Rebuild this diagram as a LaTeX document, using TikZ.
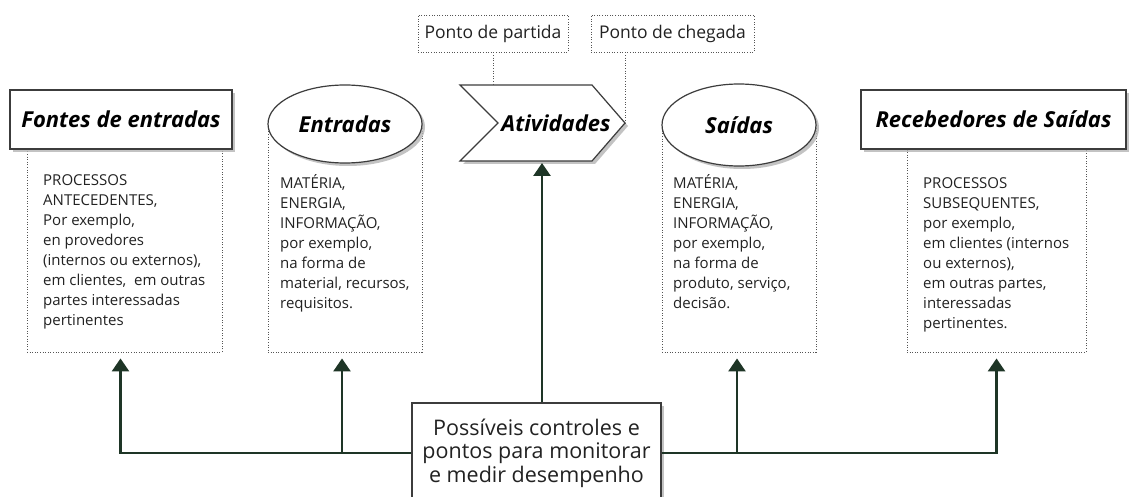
\documentclass[tikz,border=0pt]{standalone}
\usepackage{fontspec}
\setmainfont{Open Sans}
\usetikzlibrary{arrows.meta,shapes.geometric,shadows}
\definecolor{arrgreen}{HTML}{1E3526}
\definecolor{edgec}{HTML}{3C3C3C}
\definecolor{dotc}{HTML}{555555}
\definecolor{shadec}{HTML}{B5B5B5}
\definecolor{txtc}{HTML}{222222}
\begin{document}
\begin{tikzpicture}[x=1pt,y=-1pt,
  dotline/.style={draw=dotc, line width=0.9pt, dash pattern=on 1pt off 1.6pt},
  dotbox/.style={rectangle, dotline, inner sep=0pt},
  bodytext/.style={anchor=north west, align=left, inner sep=0pt, text=txtc,
    font=\fontsize{15}{20}\selectfont},
  titlefont/.style={font=\fontsize{22}{24}\selectfont\bfseries\itshape, text=black},
  shapebox/.style={draw=edgec, line width=1.2pt, fill=white, inner sep=0pt,
    drop shadow={shadow xshift=3pt, shadow yshift=-3pt, fill=shadec, opacity=0.8}},
  pontobox/.style={dotbox, font=\fontsize{17.5}{19}\selectfont, text=txtc},
  arr/.style={draw=arrgreen, line width=2.6pt, -{Triangle[width=17pt,length=13pt]}, shorten >=6pt},
]
\useasboundingbox (0,0) rectangle (1129,497);
\fill[white] (0,0) rectangle (1129,497);

% dotted bodies
\node[dotbox, minimum width=195pt, minimum height=203pt] (bfontes) at (124.5,250.5) {};
\node[dotbox, minimum width=154pt, minimum height=228pt] (bentradas) at (345,238) {};
\node[dotbox, minimum width=154pt, minimum height=227pt] (bsaidas) at (739,238.5) {};
\node[dotbox, minimum width=179pt, minimum height=203pt] (brec) at (996.5,250.5) {};

% title shapes
\node[shapebox, rectangle, minimum width=222pt, minimum height=59pt, titlefont] (fontes) at (121,119.5) {Fontes de entradas};
\node[shapebox, ellipse, minimum width=154pt, minimum height=78pt, titlefont] (entradas) at (345,124) {Entradas};
\node[shapebox, ellipse, minimum width=154pt, minimum height=82pt, titlefont] (saidas) at (739,125) {Saídas};
\node[shapebox, rectangle, minimum width=265pt, minimum height=59pt, titlefont] (rec) at (993.5,119.5) {Recebedores de Saídas};

% chevron
\coordinate (actTop) at (494,85);
\coordinate (actTip) at (625,123);
\coordinate (actBot) at (542,161);
\fill[shadec, opacity=0.8] (463,88) -- (595,88) -- (628,126) -- (595,164) -- (463,164) -- (501,126) -- cycle;
\draw[draw=edgec, line width=1.2pt, fill=white] (460,85) -- (592,85) -- (actTip) -- (592,161) -- (460,161) -- (498,123) -- cycle;
\node[titlefont, inner sep=0pt] (act) at (556,123) {Atividades};

% ponto boxes
\node[pontobox, minimum width=150pt, minimum height=37pt] (partida) at (493,33.5) {Ponto de partida};
\node[pontobox, minimum width=163pt, minimum height=37pt] (chegada) at (672.5,33.5) {Ponto de chegada};
\draw[dotline] (partida.south) -- (partida.south |- actTop);
\draw[dotline] (chegada.south -| actTip) -- (actTip);

% body texts
\node[bodytext] (tfontes) at (43,171) {\strut PROCESSOS\\ANTECEDENTES,\\Por exemplo,\\en provedores\\(internos ou externos),\\em clientes,\ \ em outras\\partes interessadas\\pertinentes};
\node[bodytext] (tentradas) at (280,174) {\strut MATÉRIA,\\ENERGIA,\\INFORMAÇÃO,\\por exemplo,\\na forma de\\material, recursos,\\requisitos.};
\node[bodytext] (tsaidas) at (673,174) {\strut MATÉRIA,\\ENERGIA,\\INFORMAÇÃO,\\por exemplo,\\na forma de\\produto, serviço,\\decisão.};
\node[bodytext] (trec) at (923,174) {\strut PROCESSOS\\SUBSEQUENTES,\\por exemplo,\\em clientes (internos\\ou externos),\\em outras partes,\\interessadas\\pertinentes.};

% control box
\node[shapebox, rectangle, minimum width=249pt, minimum height=100pt, align=center,
  font=\fontsize{21.5}{23.5}\selectfont, text=txtc] (ctrl) at (536.5,453) {Possíveis controles e\\pontos para monitorar\\e medir desempenho};

% arrows
\draw[arr] (ctrl.west) -| ([xshift=-4pt]bfontes.south);
\draw[arr] ([xshift=-3pt]bentradas.south |- ctrl.west) -- ([xshift=-3pt]bentradas.south);
\draw[arr] (ctrl.east) -| (brec.south);
\draw[arr] ([xshift=-2pt]bsaidas.south |- ctrl.east) -- ([xshift=-2pt]bsaidas.south);
\draw[arr, shorten >=2pt] (ctrl.north -| actBot) -- (actBot);
\end{tikzpicture}
\end{document}
